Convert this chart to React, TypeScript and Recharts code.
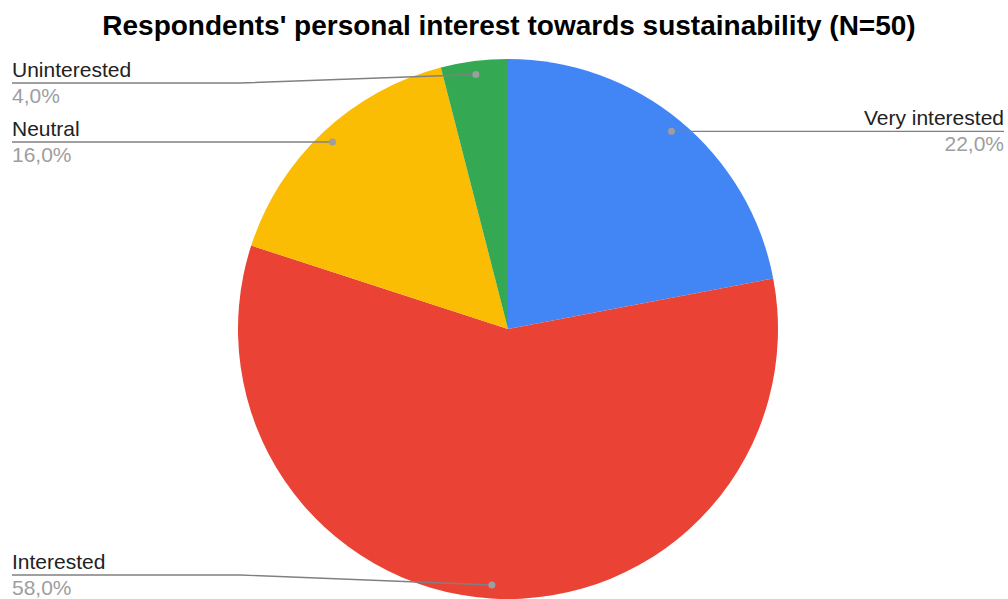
import { PieChart, Pie, Cell } from "recharts";

const categories = ["Very interested", "Interested", "Neutral", "Uninterested"];
const counts = [11, 29, 8, 2];
const colors = ["#4285F4", "#EA4335", "#FBBC04", "#34A853"];

const data = categories.map((name, i) => ({ name, value: counts[i] }));

const FONT = "'Liberation Sans', Arial, sans-serif";
const RAD = Math.PI / 180;
const W = 1008;

function renderLabel(props: any) {
  const { cx, cy, midAngle, outerRadius, name, percent } = props;
  const r = outerRadius * 0.95;
  const dx = cx + r * Math.cos(-midAngle * RAD);
  const dy = cy + r * Math.sin(-midAngle * RAD);
  const right = dx > cx;
  const lineY = Math.min(575, Math.max(83, dy));
  const textX = right ? W - 4 : 12;
  const bendX = right ? W - 240 : 240;
  const anchor = right ? "end" : "start";
  const pct = (percent * 100).toFixed(1).replace(".", ",") + "%";
  const pts = Math.abs(lineY - dy) < 1
    ? `${textX},${lineY} ${dx},${dy}`
    : `${textX},${lineY} ${bendX},${lineY} ${dx},${dy}`;
  return (
    <g>
      <polyline points={pts} fill="none" stroke="#808080" strokeWidth={1.4} />
      <circle cx={dx} cy={dy} r={3.5} fill="#9e9e9e" />
      <text x={textX} y={lineY - 6} textAnchor={anchor} fontFamily={FONT} fontSize={21} fill="#222">
        {name}
      </text>
      <text x={textX} y={lineY + 20} textAnchor={anchor} fontFamily={FONT} fontSize={21} fill="#9e9e9e">
        {pct}
      </text>
    </g>
  );
}

export default function App() {
  return (
    <div style={{ position: "absolute", left: 0, top: 0, width: 1008, height: 599, background: "#fff" }}>
      <div
        style={{
          position: "absolute",
          top: 9,
          left: 0,
          width: 1018,
          textAlign: "center",
          fontFamily: FONT,
          fontWeight: "bold",
          fontSize: 28,
          color: "#000",
          lineHeight: "34px",
          whiteSpace: "nowrap",
        }}
      >
        Respondents' personal interest towards sustainability (N=50)
      </div>
      <PieChart width={1008} height={599} margin={{ top: 0, right: 0, bottom: 0, left: 0 }}>
        <Pie
          data={data}
          dataKey="value"
          nameKey="name"
          cx={508}
          cy={329}
          outerRadius={270}
          startAngle={90}
          endAngle={-270}
          stroke="none"
          label={renderLabel}
          labelLine={false}
          isAnimationActive={false}
        >
          {data.map((_, i) => (
            <Cell key={i} fill={colors[i]} />
          ))}
        </Pie>
      </PieChart>
    </div>
  );
}
